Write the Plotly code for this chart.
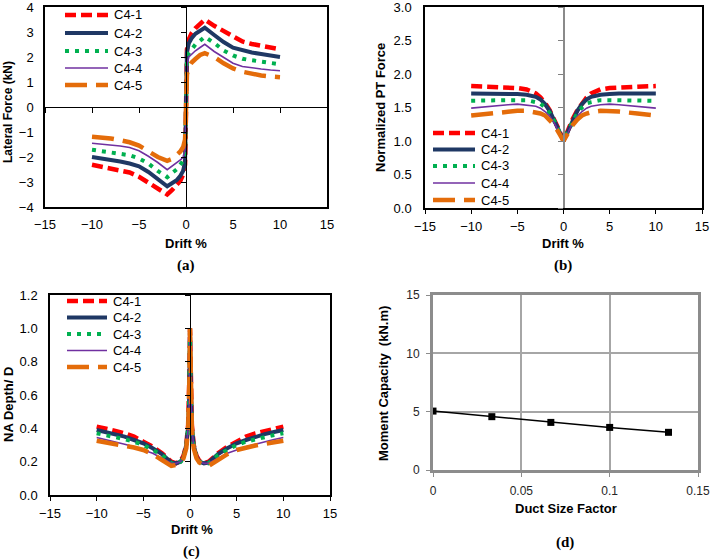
import plotly.graph_objects as go

W, H = 710, 559

def fx(px):
    return px / W

def fy(py):
    return 1 - py / H

names = ["C4-1", "C4-2", "C4-3", "C4-4", "C4-5"]
colors = ["#FF0000", "#1F3864", "#00B050", "#7030A0", "#E46C0A"]
widths = [4.5, 4, 4, 1.6, 4.5]
dashes = ["11px,5px", "solid", "4px,6px", "solid", "22px,9px"]

# ---------------- (a) Lateral force vs drift ----------------
drift_a = [-10, -9, -8, -7, -6, -5, -4, -3, -2, -1.5, -1, -0.6, -0.3, -0.1, -0.05,
           0, 0.05, 0.1, 0.3, 0.6, 1, 1.5, 2, 3, 4, 5, 6, 7, 8, 9, 10]
force_c41 = [-2.31, -2.38, -2.45, -2.52, -2.62, -2.79, -3.03, -3.25, -3.5, -3.33, -3.15, -2.95, -2.7, -2.3, -1.4,
             0, 1.4, 2.3, 2.7, 2.95, 3.15, 3.33, 3.5, 3.25, 3.03, 2.79, 2.62, 2.52, 2.45, 2.38, 2.31]
force_c42 = [-2.0, -2.05, -2.12, -2.18, -2.26, -2.37, -2.6, -2.88, -3.17, -3.05, -2.93, -2.75, -2.55, -2.2, -1.3,
             0, 1.3, 2.2, 2.55, 2.75, 2.93, 3.05, 3.17, 2.88, 2.6, 2.37, 2.26, 2.18, 2.12, 2.05, 2.0]
force_c43 = [-1.71, -1.76, -1.81, -1.87, -1.93, -2.06, -2.26, -2.56, -2.81, -2.65, -2.5, -2.3, -2.15, -1.9, -1.15,
             0, 1.15, 1.9, 2.15, 2.3, 2.5, 2.65, 2.81, 2.56, 2.26, 2.06, 1.93, 1.87, 1.81, 1.76, 1.71]
force_c44 = [-1.45, -1.48, -1.52, -1.56, -1.62, -1.75, -1.97, -2.22, -2.51, -2.38, -2.25, -2.12, -2.0, -1.7, -1.0,
             0, 1.0, 1.7, 2.0, 2.12, 2.25, 2.38, 2.51, 2.22, 1.97, 1.75, 1.62, 1.56, 1.52, 1.48, 1.45]
force_c45 = [-1.19, -1.22, -1.26, -1.33, -1.41, -1.54, -1.75, -2.0, -2.15, -2.08, -1.92, -1.78, -1.6, -1.3, -0.8,
             0, 0.8, 1.3, 1.6, 1.78, 1.92, 2.08, 2.15, 2.0, 1.75, 1.54, 1.41, 1.33, 1.26, 1.22, 1.19]

# ---------------- (b) Normalized PT force vs drift ----------------
drift_b = [-10, -8, -6, -5, -4, -3, -2.5, -2, -1.5, -1, -0.5, 0,
           0.5, 1, 1.5, 2, 2.5, 3, 4, 5, 6, 8, 10]
pt_c41 = [1.82, 1.81, 1.80, 1.79, 1.77, 1.71, 1.65, 1.57, 1.46, 1.33, 1.17, 1.0,
          1.17, 1.33, 1.46, 1.57, 1.65, 1.71, 1.77, 1.79, 1.80, 1.81, 1.82]
pt_c42 = [1.71, 1.71, 1.71, 1.70, 1.69, 1.66, 1.62, 1.55, 1.45, 1.32, 1.16, 1.0,
          1.16, 1.32, 1.45, 1.55, 1.62, 1.66, 1.69, 1.70, 1.71, 1.71, 1.71]
pt_c43 = [1.60, 1.61, 1.61, 1.61, 1.61, 1.58, 1.56, 1.50, 1.42, 1.30, 1.15, 1.0,
          1.15, 1.30, 1.42, 1.50, 1.56, 1.58, 1.61, 1.61, 1.61, 1.61, 1.60]
pt_c44 = [1.49, 1.52, 1.54, 1.55, 1.54, 1.52, 1.49, 1.44, 1.37, 1.27, 1.13, 1.0,
          1.13, 1.27, 1.37, 1.44, 1.49, 1.52, 1.54, 1.55, 1.54, 1.52, 1.49]
pt_c45 = [1.38, 1.41, 1.44, 1.45, 1.45, 1.43, 1.41, 1.38, 1.32, 1.24, 1.12, 1.0,
          1.12, 1.24, 1.32, 1.38, 1.41, 1.43, 1.45, 1.45, 1.44, 1.41, 1.38]

# ---------------- (c) NA depth / D vs drift ----------------
drift_c = [-10, -9, -8, -7, -6, -5, -4, -3, -2, -1.5, -1, -0.7, -0.4, -0.2, -0.1, -0.05,
           0, 0.05, 0.1, 0.2, 0.4, 0.7, 1, 1.5, 2, 3, 4, 5, 6, 7, 8, 9, 10]
na_c41 = [0.41, 0.40, 0.385, 0.37, 0.35, 0.32, 0.29, 0.25, 0.20, 0.19, 0.205, 0.235, 0.30, 0.42, 0.56, 0.75,
          1.0, 0.75, 0.56, 0.42, 0.30, 0.235, 0.205, 0.19, 0.20, 0.25, 0.29, 0.32, 0.35, 0.37, 0.385, 0.40, 0.41]
na_c42 = [0.39, 0.378, 0.365, 0.35, 0.33, 0.31, 0.28, 0.245, 0.195, 0.19, 0.20, 0.23, 0.30, 0.41, 0.55, 0.74,
          1.0, 0.74, 0.55, 0.41, 0.30, 0.23, 0.20, 0.19, 0.195, 0.245, 0.28, 0.31, 0.33, 0.35, 0.365, 0.378, 0.39]
na_c43 = [0.37, 0.36, 0.35, 0.335, 0.32, 0.30, 0.27, 0.24, 0.19, 0.185, 0.20, 0.225, 0.29, 0.41, 0.55, 0.74,
          1.0, 0.74, 0.55, 0.41, 0.29, 0.225, 0.20, 0.185, 0.19, 0.24, 0.27, 0.30, 0.32, 0.335, 0.35, 0.36, 0.37]
na_c44 = [0.345, 0.333, 0.32, 0.305, 0.29, 0.27, 0.25, 0.22, 0.19, 0.19, 0.20, 0.225, 0.29, 0.40, 0.54, 0.73,
          1.0, 0.73, 0.54, 0.40, 0.29, 0.225, 0.20, 0.19, 0.19, 0.22, 0.25, 0.27, 0.29, 0.305, 0.32, 0.333, 0.345]
na_c45 = [0.325, 0.316, 0.307, 0.297, 0.285, 0.27, 0.245, 0.21, 0.175, 0.18, 0.195, 0.22, 0.28, 0.39, 0.53, 0.72,
          1.0, 0.72, 0.53, 0.39, 0.28, 0.22, 0.195, 0.18, 0.175, 0.21, 0.245, 0.27, 0.285, 0.297, 0.307, 0.316, 0.325]

# ---------------- (d) Moment capacity vs duct size factor ----------------
duct_size = [0, 0.0333, 0.0667, 0.1, 0.1333]
moment_cap = [5.05, 4.57, 4.08, 3.65, 3.23]

x_ticks = [-15, -10, -5, 0, 5, 10, 15]

fig = go.Figure()

panels = [
    ("x", "y", drift_a, [force_c41, force_c42, force_c43, force_c44, force_c45]),
    ("x2", "y2", drift_b, [pt_c41, pt_c42, pt_c43, pt_c44, pt_c45]),
    ("x3", "y3", drift_c, [na_c41, na_c42, na_c43, na_c44, na_c45]),
]
for xa, ya, xs, series in panels:
    for i, ys in enumerate(series):
        fig.add_trace(go.Scatter(
            x=xs, y=ys, mode="lines", name=names[i], showlegend=False,
            xaxis=xa, yaxis=ya,
            line=dict(color=colors[i], width=widths[i], dash=dashes[i]),
        ))

fig.add_trace(go.Scatter(
    x=duct_size, y=moment_cap, mode="lines+markers", showlegend=False,
    xaxis="x4", yaxis="y4",
    line=dict(color="black", width=1.5),
    marker=dict(symbol="square", size=7, color="black"),
))

# empty traces to host the axes drawn through the origin
for xa, ya in [("x5", "y5"), ("x2", "y6"), ("x3", "y7")]:
    fig.add_trace(go.Scatter(x=[], y=[], xaxis=xa, yaxis=ya, showlegend=False, hoverinfo="skip"))

tickfont = dict(family="Liberation Sans, Arial", size=13, color="black")
frame = dict(showline=True, mirror=True, linecolor="black", linewidth=1.5,
             showgrid=False, zeroline=False, tickfont=tickfont, ticklabeloverflow="allow")

# panel domains (pixels)
A = dict(x0=45, x1=327, y0=7, y1=207)
B = dict(x0=425, x1=702, y0=7, y1=208)
C = dict(x0=50, x1=330, y0=295, y1=495)
D = dict(x0=433, x1=698, y0=295, y1=470)

def xdom(P):
    return [fx(P["x0"]), fx(P["x1"])]

def ydom(P):
    return [fy(P["y1"]), fy(P["y0"])]

d_tickfont = dict(family="Liberation Sans, Arial", size=12, color="#262626")

fig.update_layout(
    width=W, height=H,
    margin=dict(l=0, r=0, t=0, b=0, autoexpand=False),
    paper_bgcolor="white", plot_bgcolor="white",
    showlegend=False,
    xaxis=dict(domain=xdom(A), anchor="y", range=[-15, 15], tickvals=x_ticks, ticks="",
               ticklabelstandoff=5, **frame),
    yaxis=dict(domain=ydom(A), anchor="x", range=[-4, 4], dtick=1, ticks="",
               ticklabelstandoff=7, **frame),
    xaxis5=dict(overlaying="x", anchor="free", position=fy(107), range=[-15, 15], tickvals=x_ticks,
                showticklabels=False, ticks="outside", ticklen=5, tickcolor="black",
                showline=True, linecolor="black", linewidth=1, showgrid=False, zeroline=False),
    yaxis5=dict(overlaying="y", anchor="free", position=fx(186), range=[-4, 4], dtick=1,
                showticklabels=False, ticks="outside", ticklen=5, tickcolor="black",
                showline=True, linecolor="black", linewidth=1, showgrid=False, zeroline=False),

    xaxis2=dict(domain=xdom(B), anchor="y2", range=[-15, 15], tickvals=x_ticks, ticks="outside",
                ticklen=4, tickcolor="black", ticklabelstandoff=2, **frame),
    yaxis2=dict(domain=ydom(B), anchor="x2", range=[0, 3], dtick=0.5, tickformat=".1f", ticks="",
                ticklabelstandoff=9, **frame),
    yaxis6=dict(overlaying="y2", anchor="free", position=fx(563.5), range=[0, 3], dtick=0.5,
                showticklabels=False, ticks="outside", ticklen=5, tickcolor="#808080",
                showline=True, linecolor="#8A8A8A", linewidth=1.5, showgrid=False, zeroline=False),

    xaxis3=dict(domain=xdom(C), anchor="y3", range=[-15, 15], tickvals=x_ticks, ticks="outside",
                ticklen=4, tickcolor="black", ticklabelstandoff=2, **frame),
    yaxis3=dict(domain=ydom(C), anchor="x3", range=[0, 1.2], dtick=0.2, tickformat=".1f", ticks="",
                ticklabelstandoff=8, **frame),
    yaxis7=dict(overlaying="y3", anchor="free", position=fx(190), range=[0, 1.2], dtick=0.2,
                showticklabels=False, ticks="outside", ticklen=5, tickcolor="black",
                showline=True, linecolor="black", linewidth=1, showgrid=False, zeroline=False),

    xaxis4=dict(domain=xdom(D), anchor="y4", range=[0, 0.15], tickvals=[0, 0.05, 0.1, 0.15],
                ticktext=["0", "0.05", "0.1", "0.15"], ticks="outside", ticklen=4, tickcolor="#8C8C8C",
                showline=True, mirror=True, linecolor="#8C8C8C", linewidth=3,
                showgrid=True, gridcolor="#A6A6A6", gridwidth=1.5, zeroline=False,
                ticklabelstandoff=4, ticklabeloverflow="allow", tickfont=d_tickfont),
    yaxis4=dict(domain=ydom(D), anchor="x4", range=[0, 15], dtick=5, ticks="outside", ticklen=4,
                tickcolor="#8C8C8C", showline=True, mirror=True, linecolor="#8C8C8C", linewidth=3,
                showgrid=True, gridcolor="#A6A6A6", gridwidth=1.5, zeroline=False,
                ticklabelstandoff=4, ticklabeloverflow="allow", tickfont=d_tickfont),
)

# legends (one per drift panel), drawn as key lines plus labels
legfont = dict(family="Liberation Sans, Arial", size=13, color="black")
legends = [
    (65, 108, 112, [15, 33, 51, 68, 85]),
    (433, 475, 479, [133, 149.5, 166, 183, 200]),
    (67, 107, 111, [301, 317.5, 334, 350.5, 367]),
]
for x0, x1, tx, rows in legends:
    for i, ry in enumerate(rows):
        fig.add_shape(type="line", xref="paper", yref="paper",
                      x0=fx(x0), x1=fx(x1), y0=fy(ry), y1=fy(ry),
                      line=dict(color=colors[i], width=widths[i], dash=dashes[i]))
        fig.add_annotation(text=names[i], x=fx(tx), y=fy(ry), xref="paper", yref="paper",
                           showarrow=False, font=legfont, xanchor="left", yanchor="middle")

bold = dict(family="Liberation Sans, Arial", size=13, color="black")
titles = [
    ("Drift %", 186, 243, 0, bold),
    ("Drift %", 563, 243, 0, bold),
    ("Drift %", 192, 529, 0, bold),
    ("Duct Size Factor", 566, 508, 0, bold),
    ("Lateral Force (kN)", 8, 112, -90, dict(bold, size=12)),
    ("Normalized PT Force", 380, 107, -90, bold),
    ("NA Depth/ D", 8, 405, -90, bold),
    ("Moment Capacity  (kN.m)", 383, 383, -90, bold),
]
for txt, px, py, ang, fnt in titles:
    fig.add_annotation(text="<b>" + txt + "</b>", x=fx(px), y=fy(py), xref="paper", yref="paper",
                       showarrow=False, textangle=ang, font=fnt,
                       xanchor="center", yanchor="middle")

serif = dict(family="Liberation Serif, Times New Roman", size=15, color="black")
for txt, px, py in [("<b>(a)</b>", 186, 265), ("<b>(b)</b>", 563, 265),
                    ("<b>(c)</b>", 192, 551), ("<b>(d)</b>", 565, 542)]:
    fig.add_annotation(text=txt, x=fx(px), y=fy(py), xref="paper", yref="paper",
                       showarrow=False, font=serif, xanchor="center", yanchor="middle")

fig.write_html("out.html", config={"displayModeBar": False},
               post_script="document.body.style.margin='0px';")
